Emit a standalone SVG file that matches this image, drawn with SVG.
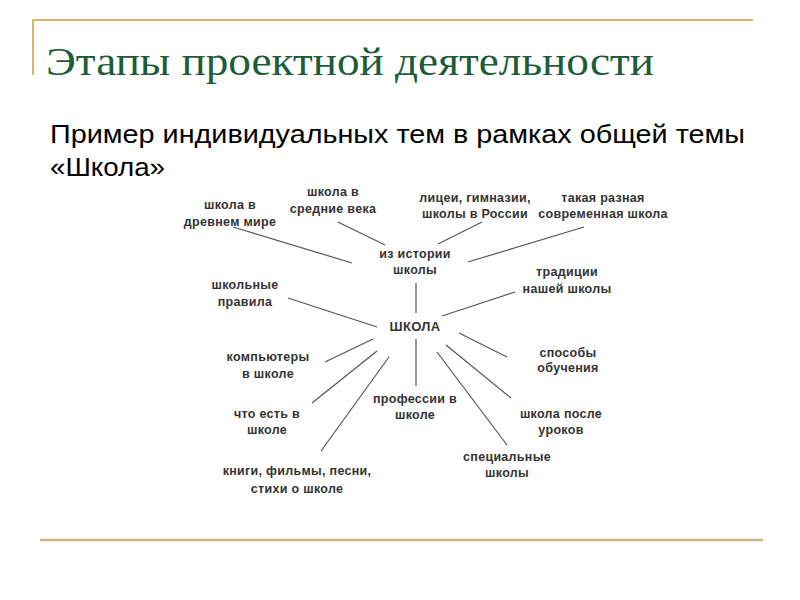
<svg xmlns="http://www.w3.org/2000/svg" width="800" height="600" viewBox="0 0 800 600">
<style>
.t{font-family:"Liberation Sans",Arial,sans-serif;font-size:12.5px;font-weight:bold;fill:#333;text-anchor:middle;letter-spacing:0.3px}
.c line{stroke:#555;stroke-width:1.2}
.s{font-family:"Liberation Sans",Arial,sans-serif;font-size:25px;fill:#000}
</style>
<rect width="800" height="600" fill="#fff"/>
<g id="frame">
<line x1="33" y1="20" x2="753" y2="20" stroke="#d6b96a" stroke-width="2"/>
<line x1="33" y1="19" x2="33" y2="75" stroke="#d6b96a" stroke-width="2"/>
<line x1="40" y1="540" x2="763" y2="540" stroke="#c9b98a" stroke-width="2.5"/>
</g>
<text x="46" y="75" font-family="Liberation Serif,serif" font-size="39" fill="#1d5c38" textLength="608" lengthAdjust="spacingAndGlyphs">Этапы проектной деятельности</text>
<text class="s" x="50" y="143" textLength="695" lengthAdjust="spacingAndGlyphs">Пример индивидуальных тем в рамках общей темы</text>
<text class="s" x="50" y="176" textLength="115" lengthAdjust="spacingAndGlyphs">«Школа»</text>
<g class="c" id="connectors">
<line x1="233" y1="227" x2="352" y2="263"/>
<line x1="338" y1="222" x2="385" y2="245"/>
<line x1="482" y1="222" x2="438" y2="244"/>
<line x1="584" y1="227" x2="468" y2="262"/>
<line x1="416" y1="283" x2="416" y2="313"/>
<line x1="288" y1="298" x2="377" y2="327"/>
<line x1="515" y1="292" x2="442" y2="316"/>
<line x1="325" y1="362" x2="373" y2="339"/>
<line x1="312" y1="403" x2="377" y2="351"/>
<line x1="321" y1="451" x2="389" y2="357"/>
<line x1="416" y1="339" x2="416" y2="386"/>
<line x1="437" y1="352" x2="507" y2="445"/>
<line x1="446" y1="345" x2="511" y2="398"/>
<line x1="459" y1="333" x2="507" y2="357"/>
</g>
<g id="n1"><text class="t" x="230" y="209">школа в</text><text class="t" x="230" y="226">древнем мире</text></g>
<g id="n2"><text class="t" x="333" y="196">школа в</text><text class="t" x="333" y="213">средние века</text></g>
<g id="n3"><text class="t" x="475" y="202">лицеи, гимназии,</text><text class="t" x="475" y="218">школы в России</text></g>
<g id="n4"><text class="t" x="603" y="202">такая разная</text><text class="t" x="603" y="218">современная школа</text></g>
<g id="n5"><text class="t" x="415" y="258">из истории</text><text class="t" x="415" y="274">школы</text></g>
<g id="n6"><text class="t" x="567" y="276">традиции</text><text class="t" x="567" y="293">нашей школы</text></g>
<g id="n7"><text class="t" x="245" y="289">школьные</text><text class="t" x="245" y="306">правила</text></g>
<g id="n8"><text class="t" x="415" y="331" style="font-size:13px">ШКОЛА</text></g>
<g id="n9"><text class="t" x="268" y="361">компьютеры</text><text class="t" x="268" y="378">в школе</text></g>
<g id="n10"><text class="t" x="568" y="357">способы</text><text class="t" x="568" y="372">обучения</text></g>
<g id="n11"><text class="t" x="415" y="403">профессии в</text><text class="t" x="415" y="419">школе</text></g>
<g id="n12"><text class="t" x="267" y="418">что есть в</text><text class="t" x="267" y="434">школе</text></g>
<g id="n13"><text class="t" x="561" y="418">школа после</text><text class="t" x="561" y="434">уроков</text></g>
<g id="n14"><text class="t" x="507" y="461">специальные</text><text class="t" x="507" y="477">школы</text></g>
<g id="n15"><text class="t" x="297" y="475">книги, фильмы, песни,</text><text class="t" x="297" y="493">стихи о школе</text></g>
</svg>
